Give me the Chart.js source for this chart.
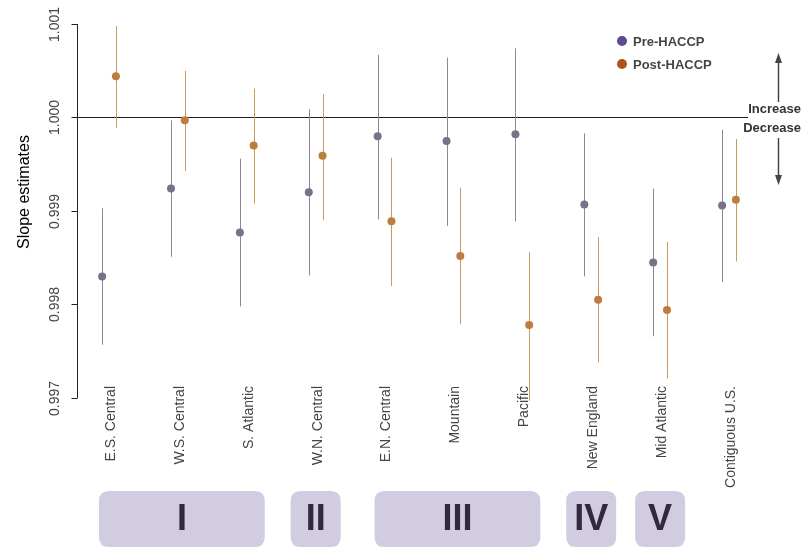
<!DOCTYPE html>
<html>
<head>
<meta charset="utf-8">
<script src="https://cdn.jsdelivr.net/npm/chart.js@4.4.1/dist/chart.umd.min.js"></script>
<style>
html,body{margin:0;padding:0;background:#fff;}
#wrap{width:810px;height:558px;}
</style>
</head>
<body>
<div id="wrap"><canvas id="c" width="810" height="558"></canvas></div>
<script>
const categories = ['E.S. Central','W.S. Central','S. Atlantic','W.N. Central','E.N. Central','Mountain','Pacific','New England','Mid Atlantic','Contiguous U.S.'];
const preEst  = [0.99830, 0.99924, 0.99877, 0.99920, 0.99980, 0.99975, 0.99982, 0.99907, 0.99845, 0.99906];
const preLo   = [0.99757, 0.99851, 0.99798, 0.99831, 0.99891, 0.99884, 0.99889, 0.99830, 0.99766, 0.99824];
const preHi   = [0.99903, 0.99997, 0.99956, 1.00009, 1.00067, 1.00064, 1.00074, 0.99983, 0.99924, 0.99987];
const postEst = [1.00044, 0.99997, 0.99970, 0.99959, 0.99889, 0.99852, 0.99778, 0.99805, 0.99794, 0.99912];
const postLo  = [0.99989, 0.99943, 0.99908, 0.99890, 0.99820, 0.99779, 0.99697, 0.99738, 0.99721, 0.99846];
const postHi  = [1.00098, 1.00050, 1.00031, 1.00025, 0.99957, 0.99925, 0.99856, 0.99872, 0.99867, 0.99977];
const yTicks  = [0.997, 0.998, 0.999, 1.000, 1.001];
const yTickLabels = ['0.997','0.998','0.999','1.000','1.001'];
const seriesNames = ['Pre-HACCP','Post-HACCP'];
const groupLabels = ['I','II','III','IV','V'];
const groupFirst  = [0, 3, 4, 7, 8];
const groupLast   = [2, 3, 6, 7, 8];
const refValue = 1.000;

const FONT = "'Liberation Sans', Arial, sans-serif";
const C = {
  preDot:'#7a7189', preLine:'#8c8798',
  postDot:'#bd7d3e', postLine:'#c9995e',
  legPre:'#5e4b8f', legPost:'#b1521a',
  text:'#444', box:'#d1cce0', boxText:'#2f2a40'
};
const OFF = 0.1;

function rr(ctx,x,y,w,h,r){
  ctx.beginPath();
  ctx.moveTo(x+r,y);ctx.lineTo(x+w-r,y);ctx.quadraticCurveTo(x+w,y,x+w,y+r);
  ctx.lineTo(x+w,y+h-r);ctx.quadraticCurveTo(x+w,y+h,x+w-r,y+h);
  ctx.lineTo(x+r,y+h);ctx.quadraticCurveTo(x,y+h,x,y+h-r);
  ctx.lineTo(x,y+r);ctx.quadraticCurveTo(x,y,x+r,y);ctx.closePath();
}
function arrow(ctx,x,y1,y2){
  const dir = y2<y1 ? -1 : 1;
  ctx.beginPath();ctx.moveTo(x,y1);ctx.lineTo(x,y2-dir*8);ctx.stroke();
  ctx.beginPath();ctx.moveTo(x,y2);ctx.lineTo(x-3.5,y2-dir*10);ctx.lineTo(x+3.5,y2-dir*10);ctx.closePath();ctx.fill();
}

const decor = {
  id:'decor',
  beforeDatasetsDraw(chart){
    const ctx = chart.ctx, xs = chart.scales.x, ys = chart.scales.y, a = chart.chartArea;
    ctx.save();
    const yr = Math.round(ys.getPixelForValue(refValue))+0.5;
    ctx.strokeStyle='#222';ctx.lineWidth=1;
    ctx.beginPath();ctx.moveTo(a.left,yr);ctx.lineTo(a.right,yr);ctx.stroke();
    const xa = Math.round(a.left)-0.5;
    ctx.beginPath();ctx.moveTo(xa,ys.getPixelForValue(yTicks[0]));ctx.lineTo(xa,ys.getPixelForValue(yTicks[yTicks.length-1]));ctx.stroke();
    ctx.fillStyle=C.text;ctx.font='14px '+FONT;
    yTicks.forEach((v,i)=>{
      const y = Math.round(ys.getPixelForValue(v))+0.5;
      ctx.beginPath();ctx.moveTo(xa-6,y);ctx.lineTo(xa,y);ctx.stroke();
      ctx.save();ctx.translate(55,y);ctx.rotate(-Math.PI/2);
      ctx.textAlign='center';ctx.textBaseline='middle';ctx.fillText(yTickLabels[i],0,0);ctx.restore();
    });
    ctx.save();ctx.translate(25,192);ctx.rotate(-Math.PI/2);
    ctx.fillStyle='#000';ctx.font='16px '+FONT;ctx.textAlign='center';ctx.textBaseline='middle';
    ctx.fillText('Slope estimates',0,0);ctx.restore();
    ctx.lineWidth=1;
    categories.forEach((c,i)=>{
      let x = Math.round(xs.getPixelForValue(i-OFF))+0.5;
      ctx.strokeStyle=C.preLine;
      ctx.beginPath();ctx.moveTo(x,ys.getPixelForValue(preLo[i]));ctx.lineTo(x,ys.getPixelForValue(preHi[i]));ctx.stroke();
      x = Math.round(xs.getPixelForValue(i+OFF))+0.5;
      ctx.strokeStyle=C.postLine;
      ctx.beginPath();ctx.moveTo(x,ys.getPixelForValue(postLo[i]));ctx.lineTo(x,ys.getPixelForValue(postHi[i]));ctx.stroke();
    });
    ctx.fillStyle=C.text;ctx.font='14px '+FONT;
    categories.forEach((c,i)=>{
      const x = xs.getPixelForValue(i);
      ctx.save();ctx.translate(x+2,386);ctx.rotate(-Math.PI/2);
      ctx.textAlign='right';ctx.textBaseline='middle';ctx.fillText(c,0,0);ctx.restore();
    });
    groupLabels.forEach((g,k)=>{
      const f=groupFirst[k], l=groupLast[k];
      let x1,x2;
      if(f===l){x1=xs.getPixelForValue(f)-25;x2=xs.getPixelForValue(f)+25;}
      else{x1=xs.getPixelForValue(f)-10;x2=xs.getPixelForValue(l)+18;}
      ctx.fillStyle=C.box;rr(ctx,x1,491,x2-x1,56,10);ctx.fill();
      ctx.fillStyle=C.boxText;ctx.font='bold 36px '+FONT;ctx.textAlign='center';ctx.textBaseline='middle';
      ctx.fillText(g,(x1+x2)/2,520);
    });
    ctx.font='bold 13px '+FONT;ctx.textAlign='left';ctx.textBaseline='middle';
    [[C.legPre,41],[C.legPost,64]].forEach((p,i)=>{
      ctx.fillStyle=p[0];ctx.beginPath();ctx.arc(622,p[1],5,0,Math.PI*2);ctx.fill();
      ctx.fillStyle='#444';ctx.fillText(seriesNames[i],633,p[1]+1);
    });
    ctx.fillStyle='#333';ctx.textAlign='right';
    ctx.fillText('Increase',801,109);
    ctx.fillText('Decrease',801,128);
    ctx.strokeStyle='#444';ctx.fillStyle='#444';ctx.lineWidth=1.5;
    arrow(ctx,778.5,102,53);
    arrow(ctx,778.5,138,185);
    ctx.restore();
  }
};

new Chart(document.getElementById('c'),{
  type:'scatter',
  data:{datasets:[
    {label:seriesNames[0],data:categories.map((c,i)=>({x:i-OFF,y:preEst[i]})),
     backgroundColor:C.preDot,borderColor:C.preDot,pointRadius:4,pointBorderWidth:0,clip:false},
    {label:seriesNames[1],data:categories.map((c,i)=>({x:i+OFF,y:postEst[i]})),
     backgroundColor:C.postDot,borderColor:C.postDot,pointRadius:4,pointBorderWidth:0,clip:false}
  ]},
  options:{
    responsive:false,animation:false,devicePixelRatio:1,
    layout:{padding:{left:78,right:62,top:24,bottom:160}},
    scales:{
      x:{type:'linear',display:false,min:-0.45,max:9.276},
      y:{type:'linear',display:false,min:0.997,max:1.001}
    },
    plugins:{legend:{display:false},tooltip:{enabled:false}}
  },
  plugins:[decor]
});
</script>
</body>
</html>
